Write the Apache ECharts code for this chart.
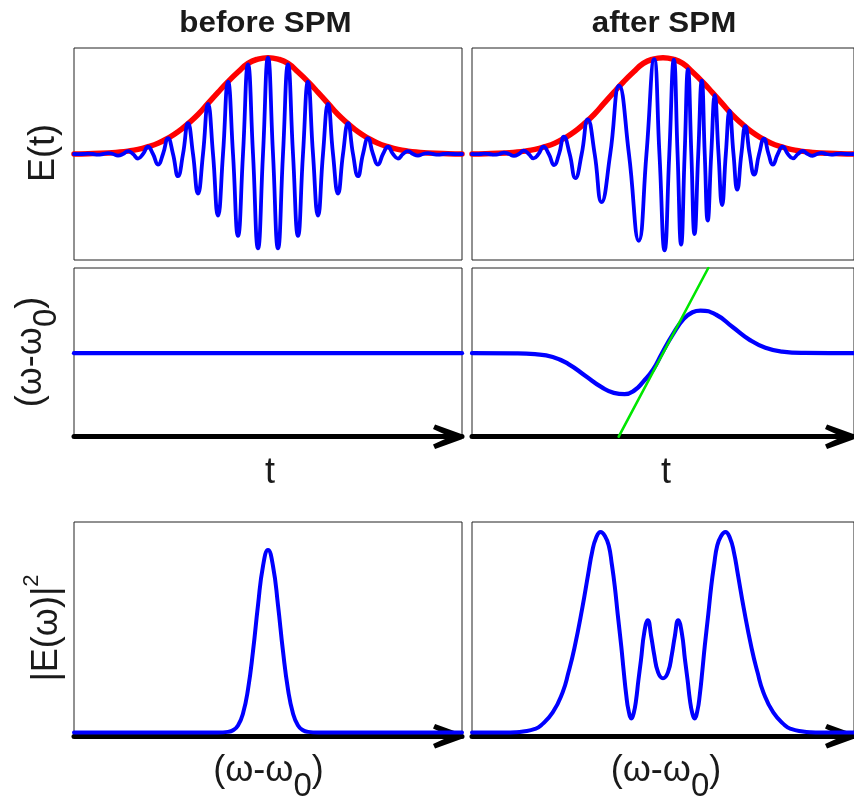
<!DOCTYPE html>
<html>
<head>
<meta charset="utf-8">
<title>Self-phase modulation</title>
<script src="https://cdn.jsdelivr.net/npm/echarts@6/dist/echarts.min.js"></script>
<style>
  html, body { margin: 0; padding: 0; background: #fff; }
  #chart { width: 854px; height: 800px; }
</style>
</head>
<body>
<div id="chart"></div>
<script>
// ---- time / frequency range shared by all panels ----
const T_MIN = -9.7;
const T_MAX = 9.7;

// ---- column headings ----
const columnTitles = ['before SPM', 'after SPM'];

// ---- pulse envelope |E(t)| (same before and after SPM) ----
const envelope = [
  [-9.7, 0.001], [-9, 0.003], [-8, 0.01], [-7.5, 0.018], [-7, 0.03], [-6.5, 0.048], [-6, 0.076],
  [-5.5, 0.112], [-5, 0.165], [-4.5, 0.23], [-4, 0.315], [-3.5, 0.41], [-3, 0.525], [-2.5, 0.64],
  [-2, 0.75], [-1.5, 0.85], [-1, 0.94], [-0.5, 0.985], [0, 1.0], [0.5, 0.985], [1, 0.94],
  [1.5, 0.85], [2, 0.75], [2.5, 0.64], [3, 0.525], [3.5, 0.41], [4, 0.315], [4.5, 0.23],
  [5, 0.165], [5.5, 0.112], [6, 0.076], [6.5, 0.048], [7, 0.03], [7.5, 0.018], [8, 0.01],
  [9, 0.003], [9.7, 0.001]
];

// ---- field E(t) before SPM: crests, troughs and zero crossings ----
const fieldBefore = [
  [-9.7, 0], [-9.5, -0.001], [-9.25, 0], [-9, 0.003], [-8.75, 0], [-8.5, -0.006], [-8.25, 0],
  [-8, 0.01], [-7.75, 0], [-7.5, -0.017], [-7.25, 0], [-7, 0.03], [-6.75, 0], [-6.5, -0.047],
  [-6.25, 0], [-6, 0.075], [-5.75, 0], [-5.5, -0.11], [-5.25, 0], [-5, 0.165], [-4.75, 0],
  [-4.5, -0.23], [-4.25, 0], [-4, 0.32], [-3.75, 0], [-3.5, -0.41], [-3.25, 0], [-3, 0.52],
  [-2.75, 0], [-2.5, -0.64], [-2.25, 0], [-2, 0.75], [-1.75, 0], [-1.5, -0.85], [-1.25, 0],
  [-1, 0.93], [-0.75, 0], [-0.5, -0.98], [-0.25, 0], [0, 1.0], [0.25, 0], [0.5, -0.98],
  [0.75, 0], [1, 0.93], [1.25, 0], [1.5, -0.85], [1.75, 0], [2, 0.75], [2.25, 0], [2.5, -0.64],
  [2.75, 0], [3, 0.52], [3.25, 0], [3.5, -0.41], [3.75, 0], [4, 0.32], [4.25, 0], [4.5, -0.23],
  [4.75, 0], [5, 0.165], [5.25, 0], [5.5, -0.11], [5.75, 0], [6, 0.075], [6.25, 0], [6.5, -0.047],
  [6.75, 0], [7, 0.03], [7.25, 0], [7.5, -0.017], [7.75, 0], [8, 0.01], [8.25, 0], [8.5, -0.006],
  [8.75, 0], [9, 0.003], [9.25, 0], [9.5, -0.001], [9.7, 0]
];

// ---- field E(t) after SPM (chirped carrier) ----
const fieldAfter = [
  [-9.7, 0], [-9.5, -0.002], [-9.28, 0], [-9.07, 0.004], [-8.82, 0], [-8.57, -0.007], [-8.32, 0],
  [-8.07, 0.014], [-7.82, 0], [-7.57, -0.02], [-7.32, 0], [-7.07, 0.035], [-6.82, 0],
  [-6.58, -0.045], [-6.32, 0], [-6.07, 0.076], [-5.8, 0], [-5.53, -0.115], [-5.28, 0],
  [-5.03, 0.18], [-4.74, 0], [-4.45, -0.25], [-4.13, 0], [-3.82, 0.36], [-3.47, 0],
  [-3.12, -0.5], [-2.68, 0], [-2.23, 0.71], [-1.73, 0], [-1.23, -0.9], [-0.84, 0],
  [-0.45, 0.985], [-0.18, 0], [0.08, -1.0], [0.32, 0], [0.55, 0.98], [0.74, 0], [0.92, -0.94],
  [1.1, 0], [1.27, 0.88], [1.44, 0], [1.6, -0.83], [1.79, 0], [1.97, 0.76], [2.12, 0],
  [2.27, -0.69], [2.45, 0], [2.63, 0.61], [2.82, 0], [3.0, -0.53], [3.19, 0], [3.38, 0.45],
  [3.58, 0], [3.77, -0.37], [3.98, 0], [4.18, 0.29], [4.4, 0], [4.63, -0.215], [4.88, 0],
  [5.13, 0.16], [5.36, 0], [5.58, -0.11], [5.83, 0], [6.08, 0.076], [6.34, 0], [6.6, -0.045],
  [6.85, 0], [7.1, 0.031], [7.35, 0], [7.6, -0.018], [7.83, 0], [8.05, 0.012], [8.3, 0],
  [8.55, -0.006], [8.8, 0], [9.05, 0.003], [9.3, 0], [9.55, -0.001], [9.7, 0]
];

// ---- instantaneous frequency shift (ω-ω0) vs t ----
const freqBefore = [[-9.7, 0], [9.7, 0]];
const freqAfter = [
  [-9.7, 0], [-7.5, -0.002], [-6.5, -0.012], [-5.6, -0.045], [-4.8, -0.13], [-3.95, -0.27],
  [-3.1, -0.41], [-2.5, -0.475], [-1.95, -0.49], [-1.45, -0.445], [-1.0, -0.34], [-0.5, -0.195],
  [-0.05, 0], [0.5, 0.225], [1.05, 0.41], [1.5, 0.49], [1.9, 0.51], [2.7, 0.46], [3.55, 0.31],
  [4.4, 0.16], [5.2, 0.065], [6.05, 0.02], [7.2, 0.004], [9.7, 0]
];
// linear chirp near the pulse centre
const chirpSlope = [[-2.25, -1.0], [2.3, 1.02]];

// ---- power spectra |E(ω)|² ----
const spectrumBefore = [
  [-9.7, 0], [-2.5, 0], [-2, 0.003], [-1.75, 0.011], [-1.5, 0.035], [-1.25, 0.095], [-1, 0.215],
  [-0.75, 0.405], [-0.5, 0.635], [-0.25, 0.83], [0, 0.91], [0.25, 0.83], [0.5, 0.635],
  [0.75, 0.405], [1, 0.215], [1.25, 0.095], [1.5, 0.035], [1.75, 0.011], [2, 0.003], [2.5, 0],
  [9.7, 0]
];
const spectrumAfter = [
  [-9.7, 0], [-8, 0], [-7.5, 0.001], [-7.1, 0.005], [-6.5, 0.018], [-6.2, 0.035], [-5.6, 0.1],
  [-5.1, 0.2], [-4.8, 0.3], [-4.5, 0.42], [-4.1, 0.62], [-3.8, 0.79], [-3.6, 0.9], [-3.4, 0.97],
  [-3.17, 1.0], [-2.95, 0.98], [-2.75, 0.93], [-2.6, 0.84], [-2.45, 0.73], [-2.3, 0.59],
  [-2.12, 0.43], [-2.0, 0.31], [-1.87, 0.19], [-1.75, 0.11], [-1.6, 0.07], [-1.48, 0.1],
  [-1.37, 0.16], [-1.25, 0.26], [-1.12, 0.36], [-0.95, 0.5], [-0.77, 0.56], [-0.6, 0.48],
  [-0.45, 0.39], [-0.25, 0.3], [0, 0.27], [0.25, 0.3], [0.45, 0.39], [0.6, 0.48], [0.77, 0.56],
  [0.95, 0.5], [1.12, 0.36], [1.25, 0.26], [1.37, 0.16], [1.48, 0.1], [1.6, 0.07], [1.75, 0.11],
  [1.87, 0.19], [2.0, 0.31], [2.12, 0.43], [2.3, 0.59], [2.45, 0.73], [2.6, 0.84], [2.75, 0.93],
  [2.95, 0.98], [3.17, 1.0], [3.4, 0.97], [3.6, 0.9], [3.8, 0.79], [4.1, 0.62], [4.5, 0.42],
  [4.8, 0.3], [5.1, 0.2], [5.6, 0.1], [6.2, 0.035], [6.5, 0.018], [7.1, 0.005], [7.5, 0.001],
  [8, 0], [9.7, 0]
];

// ---- layout ----
const FONT = '"Liberation Sans", Arial, Helvetica, sans-serif';
const BLUE = '#0000ff';
const RED = '#ff0000';
const GREEN = '#00e600';
const INK = '#1a1a1a';
// open chevron arrow head (tip at top of the path box)
const ARROW = 'path://M9.77,0 L14.77,0 L24.54,27 L20,29.06 L12.27,12.06 L4.54,29.06 L0,27 Z';

const cols = [74, 472];
const rows = [
  { top: 48, height: 212, yMin: -1.1, yMax: 1.1, arrow: false },
  { top: 268, height: 168.7, yMin: -1.0, yMax: 1.02, arrow: true },
  { top: 522, height: 214.3, yMin: -0.019, yMax: 1.05, arrow: true }
];

const grid = [], xAxis = [], yAxis = [];
rows.forEach(function (r) {
  cols.forEach(function (c) {
    const i = grid.length;
    grid.push({
      left: c, top: r.top, width: 388, height: r.height,
      show: true, borderColor: '#222', borderWidth: 1, backgroundColor: 'transparent'
    });
    xAxis.push({
      type: 'value', gridIndex: i, min: T_MIN, max: T_MAX,
      axisLine: {
        show: r.arrow, onZero: false,
        symbol: ['none', ARROW], symbolSize: [24.5, 29], symbolOffset: [0, -14.5],
        lineStyle: { color: '#000', width: 5 }
      },
      axisTick: { show: false }, axisLabel: { show: false }, splitLine: { show: false }
    });
    yAxis.push({
      type: 'value', gridIndex: i, min: r.yMin, max: r.yMax,
      axisLine: { show: false }, axisTick: { show: false },
      axisLabel: { show: false }, splitLine: { show: false }
    });
  });
});

function curve(idx, data, color, width, smooth, z) {
  return {
    type: 'line', xAxisIndex: idx, yAxisIndex: idx, data: data,
    smooth: smooth, showSymbol: false, symbol: 'none', silent: true,
    lineStyle: { color: color, width: width, cap: 'round', join: 'round' },
    z: z || 2, animation: false
  };
}

const series = [
  curve(0, envelope, RED, 5.5, 0.5, 2),
  curve(0, fieldBefore, BLUE, 3.8, 0.5, 3),
  curve(1, envelope, RED, 5.5, 0.5, 2),
  curve(1, fieldAfter, BLUE, 3.8, 0.5, 3),
  curve(2, freqBefore, BLUE, 4.3, false, 3),
  curve(3, freqAfter, BLUE, 4.3, 0.5, 3),
  curve(3, chirpSlope, GREEN, 2.6, false, 4),
  curve(4, spectrumBefore, BLUE, 4, 0.5, 3),
  curve(5, spectrumAfter, BLUE, 4, 0.5, 3)
];

// ---- text labels ----
function label(x, y, text, size, opts) {
  opts = opts || {};
  return {
    type: 'text', x: x, y: y, rotation: opts.rotation || 0,
    scaleX: opts.scaleX || 1, silent: true, z: 10,
    style: {
      text: text, fill: INK, fontFamily: FONT, fontSize: size,
      fontWeight: opts.bold ? 'bold' : 'normal',
      align: 'center', verticalAlign: 'middle',
      textAlign: 'center', textVerticalAlign: 'middle',
      rich: opts.rich
    }
  };
}

const omegaRich = {
  m: { fontSize: 36, fontFamily: FONT, color: INK, lineHeight: 42 },
  s: { fontSize: 33, fontFamily: FONT, color: INK, lineHeight: 42, padding: [32, 0, 0, 0] }
};
const powerRich = {
  m: { fontSize: 36, fontFamily: FONT, color: INK, lineHeight: 42 },
  p: { fontSize: 22, fontFamily: FONT, color: INK, lineHeight: 22, padding: [0, 0, 30, 0] }
};
const omegaText = '{m|(ω-ω}{s|0}{m|)}';

const graphic = [
  label(265.5, 24, columnTitles[0], 29, { bold: true, scaleX: 1.08 }),
  label(664, 24, columnTitles[1], 29, { bold: true, scaleX: 1.08 }),
  label(44, 153, 'E(t)', 36, { rotation: Math.PI / 2 }),
  label(31, 352, omegaText, 36, { rotation: Math.PI / 2, rich: omegaRich }),
  label(47, 628, '{m|\u007CE(ω)\u007C}{p|2}', 36, { rotation: Math.PI / 2, rich: powerRich }),
  label(270, 473, 't', 36),
  label(666, 473, 't', 36),
  label(268.5, 771, omegaText, 36, { rich: omegaRich }),
  label(666, 771, omegaText, 36, { rich: omegaRich })
];

const chart = echarts.init(document.getElementById('chart'), null, { renderer: 'canvas' });
chart.setOption({
  backgroundColor: '#ffffff',
  animation: false,
  grid: grid,
  xAxis: xAxis,
  yAxis: yAxis,
  series: series,
  graphic: graphic
});
</script>
</body>
</html>
